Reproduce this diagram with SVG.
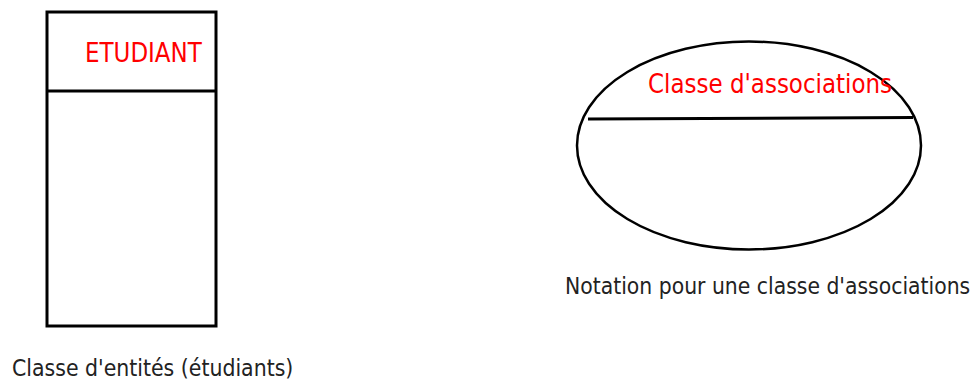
<svg xmlns="http://www.w3.org/2000/svg" width="979" height="382" viewBox="0 0 979 382">
<style>
.shape{fill:#fff;stroke:#000;stroke-width:3}
.line{stroke:#000;stroke-width:3;fill:none}
.title{font-family:"DejaVu Sans",sans-serif;font-size:23px;fill:#ff0000}
.caption{font-family:"DejaVu Sans",sans-serif;font-size:20.5px;fill:#222}
</style>
<rect width="979" height="382" fill="#fff"/>
<g id="etudiant">
<rect class="shape" x="47" y="12" width="169" height="314"/>
<line class="line" x1="47" y1="91" x2="216" y2="91"/>
<text class="title" transform="translate(85 62) scale(1 1.17)">ETUDIANT</text>
<text class="caption" transform="translate(12 376) scale(1 1.15)">Classe d'entités (étudiants)</text>
</g>
<g id="classe-associations">
<ellipse class="shape" cx="749" cy="145.5" rx="172" ry="104" style="stroke-width:2.5"/>
<line class="line" x1="588" y1="119" x2="913" y2="117.5"/>
<text class="title" transform="translate(648 93) scale(1 1.17)">Classe d'associations</text>
<text class="caption" transform="translate(565 294) scale(1 1.15)" style="font-size:20.4px">Notation pour une classe d'associations</text>
</g>
<g id="connectors"></g>
</svg>
